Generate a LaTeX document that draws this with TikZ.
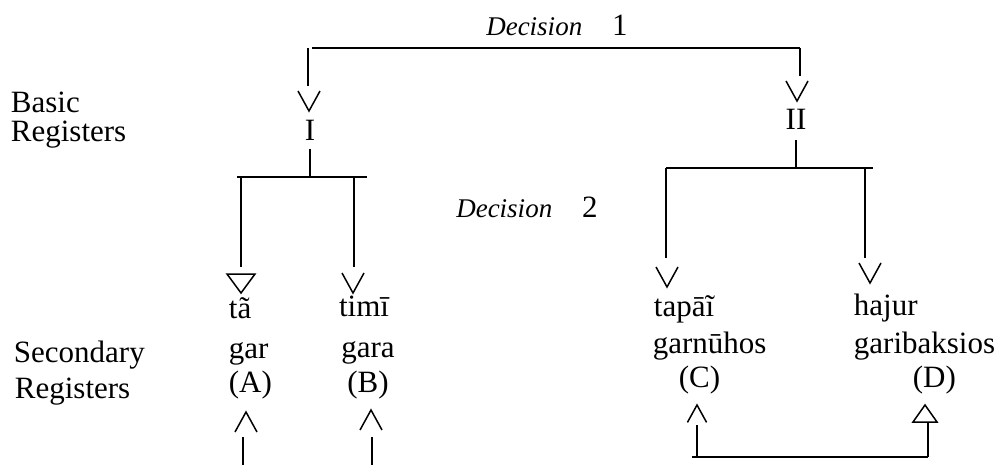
\documentclass[tikz,border=0pt]{standalone}
\usepackage{fontspec}
\setmainfont{Liberation Serif}

\tikzset{
        lbl/.style = {font=\fontsize{31}{36}\selectfont, inner sep=0pt, anchor=base west},
        dec/.style = {font=\fontsize{27}{32}\selectfont\itshape, inner sep=0pt, anchor=base},
        bar/.style = {line width=2.6pt},
        vdown/.pic = {
            \draw[line width=1.5pt] (-11,-20) -- (0,0) -- (11,-20);
        },
        tdown/.pic = {
            \draw[line width=1.5pt] (-14,-19) -- (0,0) -- (14,-19) -- cycle;
        },
        vup/.pic = {
            \draw[line width=1.5pt] (-11,20) -- (0,0) -- (11,20);
        },
        tup/.pic = {
            \draw[line width=1.5pt] (-12,17) -- (0,0) -- (12,17) -- cycle;
        }
    }

\begin{document}
\begin{tikzpicture}[x=1pt, y=-1pt, line width=1.8pt]
            \useasboundingbox (0,0) rectangle (995,465);

            % row labels
            \node[lbl] (basic) at (10,113) {Basic};
            \node[lbl] (basicreg) at (10,142) {Registers};
            \node[lbl] (second) at (13,362) {Secondary};
            \node[lbl] (secondreg) at (14,398) {Registers};

            % decisions
            \node[dec] (dec1) at (557,36) {Decision\hspace{30pt}{\upshape\fontsize{31}{36}\selectfont 1}};
            \node[dec] (dec2) at (527,217) {Decision\hspace{30pt}{\upshape\fontsize{31}{36}\selectfont 2}};

            % basic registers
            \node[lbl, anchor=base] (regI) at (310,141) {I};
            \node[lbl, anchor=base] (regII) at (796,130) {II};

            \coordinate (top1) at (308,48);
            \coordinate (top2) at (800,48);
            \draw[bar] ([xshift=4pt]top1) -- (top2);
            \draw (top1) -- ++(0,38);
            \path (309,111) pic {vdown};
            \draw (top2) -- ++(0,28);
            \path (797,101) pic {vdown};

            % decision 2, left side
            \coordinate (midI) at (310,177);
            \coordinate (bA) at (241,177);
            \coordinate (bB) at (354,177);
            \draw ([yshift=-7pt]regI.south) -- (midI);
            \draw[bar] ([xshift=-4pt]bA) -- ([xshift=13pt]bB);
            \draw (bA) -- ++(0,90);
            \path (241,293) pic {tdown};
            \draw (bB) -- ++(0,90);
            \path (353,293) pic {vdown};

            % decision 2, right side
            \coordinate (midII) at (796,168);
            \coordinate (bC) at (666,168);
            \coordinate (bD) at (865,168);
            \draw ([yshift=-9pt]regII.south) -- (midII);
            \draw[bar] (bC) -- ([xshift=8pt]bD);
            \draw (bC) -- ++(0,90);
            \path (667,287) pic {vdown};
            \draw (bD) -- ++(0,90);
            \path (870,283) pic {vdown};

            % secondary registers
            \node[lbl] (ta) at (228,318) {tã};
            \node[lbl] (gar) at (228,358) {gar};
            \node[lbl] (regA) at (228,392) {(A)};
            \node[lbl, anchor=base] (timi) at (364,316) {timī};
            \node[lbl, anchor=base] (gara) at (368,357) {gara};
            \node[lbl, anchor=base] (regB) at (368,392) {(B)};
            \node[lbl] (tapai) at (653,316) {tapāĩ};
            \node[lbl] (garnuhos) at (652,353) {garnūhos};
            \node[lbl] (regC) at (678,387) {(C)};
            \node[lbl] (hajur) at (853,315) {hajur};
            \node[lbl] (garib) at (853,353) {garibaksios};
            \node[lbl] (regD) at (912,387) {(D)};

            % arrows from below
            \coordinate (endA) at (243,465);
            \coordinate (endB) at (372,465);
            \draw (endA) -- ++(0,-28);
            \path (246,412) pic {vup};
            \draw (endB) -- ++(0,-28);
            \path (371,410) pic {vup};

            \coordinate (lowC) at (697,457);
            \coordinate (lowD) at (928,457);
            \draw[bar] ([xshift=-5pt]lowC) -- (lowD);
            \draw (lowC) -- ++(0,-32);
            \path (697,405) pic[scale=0.87] {vup};
            \draw (lowD) -- ++(0,-34);
            \path (925,405) pic {tup};

        \end{tikzpicture}
\end{document}
